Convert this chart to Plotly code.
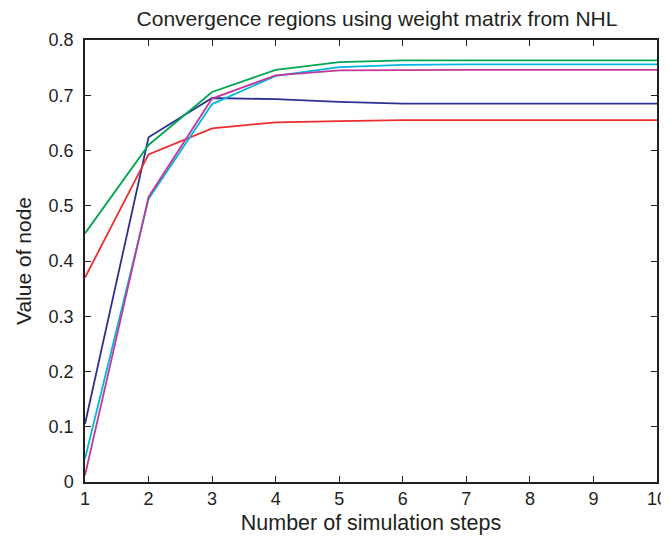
import plotly.graph_objects as go

steps = [1, 2, 3, 4, 5, 6, 7, 8, 9, 10]
green = [0.450, 0.610, 0.706, 0.746, 0.760, 0.763, 0.763, 0.763, 0.763, 0.763]
red = [0.370, 0.593, 0.640, 0.651, 0.653, 0.655, 0.655, 0.655, 0.655, 0.655]
blue = [0.105, 0.624, 0.695, 0.693, 0.688, 0.685, 0.685, 0.685, 0.685, 0.685]
cyan = [0.042, 0.512, 0.684, 0.735, 0.751, 0.755, 0.756, 0.756, 0.756, 0.756]
magenta = [0.012, 0.516, 0.694, 0.736, 0.745, 0.746, 0.746, 0.746, 0.746, 0.746]
y_ticks = [0, 0.1, 0.2, 0.3, 0.4, 0.5, 0.6, 0.7, 0.8]
y_labels = ["0", "0.1", "0.2", "0.3", "0.4", "0.5", "0.6", "0.7", "0.8"]

series = [
    (blue, "#2e3192"),
    (red, "#ee2d2d"),
    (green, "#00a651"),
    (cyan, "#00b6e0"),
    (magenta, "#c2389a"),
]

fig = go.Figure()
for vals, col in series:
    fig.add_trace(go.Scatter(x=steps, y=vals, mode="lines",
                             line=dict(color=col, width=1.8), showlegend=False))

font = "Liberation Sans, Arial, sans-serif"
ink = "#231f20"
axis_common = dict(
    showgrid=False, zeroline=False, showline=True, linecolor=ink,
    linewidth=1.5, mirror="allticks", ticks="inside", ticklen=6,
    tickcolor=ink, tickfont=dict(family=font, size=18, color=ink),
    automargin=False,
)
# page body has an 8px default margin, so the figure is sized to fit the 669x540 window
fig.update_layout(
    width=661, height=532,
    margin=dict(l=77, r=12, t=32, b=57.5),
    paper_bgcolor="white", plot_bgcolor="white",
    title=dict(text="Convergence regions using weight matrix from NHL",
               x=(292 + 77) / 661, xanchor="center", y=1 - 11 / 532, yanchor="middle",
               font=dict(family=font, size=21, color=ink)),
    xaxis=dict(range=[1, 10], tickvals=steps, **axis_common,
               title=dict(text="Number of simulation steps", standoff=7,
                          font=dict(family=font, size=21.5, color=ink))),
    yaxis=dict(range=[0, 0.8], tickvals=y_ticks, ticktext=y_labels,
               ticklabelstandoff=6, **axis_common,
               title=dict(text="Value of node", standoff=11,
                          font=dict(family=font, size=21, color=ink))),
)
fig.write_html("out.html")
